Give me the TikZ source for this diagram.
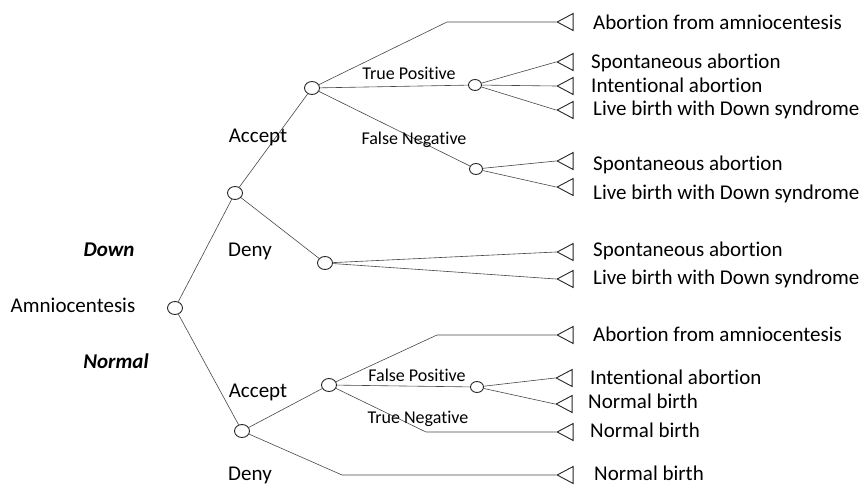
\documentclass[tikz,border=0pt]{standalone}
\usepackage{fontspec}
\setmainfont{Carlito}[Ligatures=NoCommon]
\usetikzlibrary{positioning,shapes.geometric}

\tikzset{
    chance/.style={ellipse, draw=black!85, line width=0.9pt, fill=white, minimum width=15pt, minimum height=13pt, inner sep=0pt},
    smallchance/.style={chance, minimum width=13pt, minimum height=11pt},
    leaf/.style={isosceles triangle, isosceles triangle stretches, shape border rotate=180, draw=black!85, line width=0.9pt, minimum width=17pt, minimum height=16pt, inner sep=0pt, anchor=apex},
    edge/.style={draw=black!72, line width=0.6pt},
    bigtext/.style={font=\fontsize{21}{25}\selectfont, inner sep=0pt, text height=13.5pt, text depth=0pt},
    outcome/.style={bigtext, anchor=west},
    branch/.style={font=\fontsize{18}{21}\selectfont, inner sep=0pt, text height=11.5pt, text depth=0pt},
}

\begin{document}
\begin{tikzpicture}[x=1pt, y=-1pt]
    \useasboundingbox (0,0) rectangle (861,486);

    % chance nodes
    \node[chance] (r) at (175,308) {};
    \node[chance] (d) at (235,193) {};
    \node[chance] (dA) at (312,88) {};
    \node[chance] (dD) at (325,263) {};
    \node[smallchance] (dTP) at (475,85) {};
    \node[smallchance] (dFN) at (476,169) {};
    \node[chance] (n) at (242,431) {};
    \node[chance] (nA) at (329,385) {};
    \node[smallchance] (nFP) at (477,387) {};

    % bends
    \coordinate (dk1) at (447,22);
    \coordinate (nk1) at (437,335);
    \coordinate (nk2) at (426,432);
    \coordinate (nk4) at (342,475);

    % end nodes
    \node[leaf] (t1) at (556,22) {};
    \node[leaf] (t2) at (556,62) {};
    \node[leaf] (t3) at (556,86) {};
    \node[leaf] (t4) at (556,110) {};
    \node[leaf] (t5) at (556,161) {};
    \node[leaf] (t6) at (556,187) {};
    \node[leaf] (t7) at (556,252) {};
    \node[leaf] (t8) at (556,279) {};
    \node[leaf] (t9) at (556,335) {};
    \node[leaf] (t10) at (555,378) {};
    \node[leaf] (t11) at (555,404) {};
    \node[leaf] (t12) at (556,432) {};
    \node[leaf] (t13) at (556,475) {};

    % connectors
    \draw[edge] (r) -- (d);
    \draw[edge] (r) -- (n);
    \draw[edge] (d) -- (dA);
    \draw[edge] (d) -- (dD);
    \draw[edge] (dA) -- (dk1) -- (t1.apex);
    \draw[edge] (dA) -- (dTP);
    \draw[edge] (dA) -- (dFN);
    \draw[edge] (dTP) -- (t2.apex);
    \draw[edge] (dTP) -- (t3.apex);
    \draw[edge] (dTP) -- (t4.apex);
    \draw[edge] (dFN) -- (t5.apex);
    \draw[edge] (dFN) -- (t6.apex);
    \draw[edge] (dD) -- (t7.apex);
    \draw[edge] (dD) -- (t8.apex);
    \draw[edge] (n) -- (nA);
    \draw[edge] (n) -- (nk4) -- (t13.apex);
    \draw[edge] (nA) -- (nk1) -- (t9.apex);
    \draw[edge] (nA) -- (nFP);
    \draw[edge] (nFP) -- (t10.apex);
    \draw[edge] (nFP) -- (t11.apex);
    \draw[edge] (nA) -- (nk2) -- (t12.apex);

    % labels
    \node[bigtext] (amnio) at (73,306) {Amniocentesis};
    \node[bigtext] (down) at (109,250) {\textbf{\textit{Down}}};
    \node[bigtext] (normal) at (116,362) {\textbf{\textit{Normal}}};
    \node[bigtext] (dacc) at (258,136) {Accept};
    \node[bigtext] (dden) at (250,250) {Deny};
    \node[bigtext] (nacc) at (258,391) {Accept};
    \node[bigtext] (nden) at (250,474) {Deny};
    \node[branch] (tp) at (409,74) {True Positive};
    \node[branch] (fn) at (414,139) {False Negative};
    \node[branch] (fp) at (417,376) {False Positive};
    \node[branch] (tn) at (418,418) {True Negative};

    \node[outcome] (o1) at (593,23) {Abortion from amniocentesis};
    \node[outcome] (o2) at (591,62) {Spontaneous abortion};
    \node[outcome] (o3) at (591,86) {Intentional abortion};
    \node[outcome] (o4) at (593,109) {Live birth with Down syndrome};
    \node[outcome] (o5) at (593,164) {Spontaneous abortion};
    \node[outcome] (o6) at (593,193) {Live birth with Down syndrome};
    \node[outcome] (o7) at (593,250) {Spontaneous abortion};
    \node[outcome] (o8) at (593,278) {Live birth with Down syndrome};
    \node[outcome] (o9) at (593,335) {Abortion from amniocentesis};
    \node[outcome] (o10) at (590,378) {Intentional abortion};
    \node[outcome] (o11) at (588,402) {Normal birth};
    \node[outcome] (o12) at (590,431) {Normal birth};
    \node[outcome] (o13) at (594,474) {Normal birth};
\end{tikzpicture}
\end{document}
